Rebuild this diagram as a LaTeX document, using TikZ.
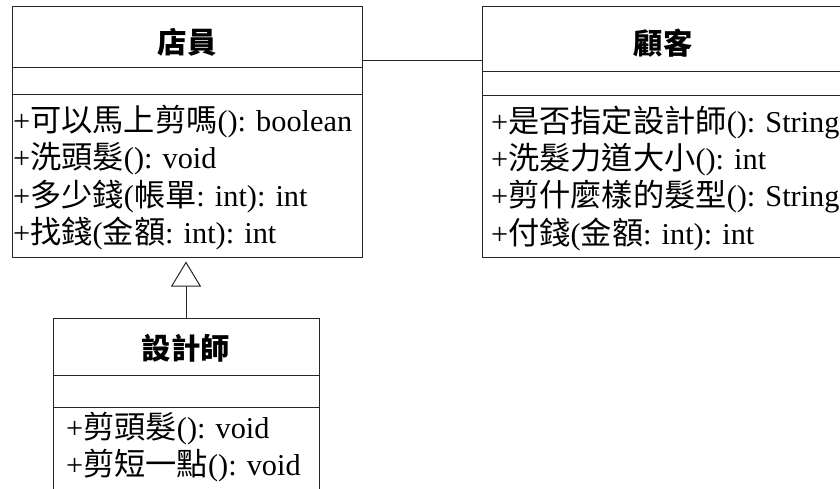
\documentclass[tikz,border=0pt]{standalone}
\usepackage{fontspec}
\setmainfont{Liberation Serif}
\newfontfamily\cjk[Scale=1.03]{Noto Sans CJK TC}
\usetikzlibrary{arrows.meta}
\tikzset{
  classbox/.style={draw=black!85, line width=1pt, rectangle, inner sep=0pt},
  divider/.style={draw=black!85, line width=1pt},
  meth/.style={anchor=base west, inner sep=0pt, font=\fontsize{30.3}{37}\selectfont},
  ttl/.style={anchor=center, inner sep=0pt, font=\fontsize{28.5}{34}\selectfont\cjk\bfseries},
  conn/.style={draw=black!85, line width=1pt},
}
\begin{document}
\begin{tikzpicture}[x=1pt,y=-1pt]
\useasboundingbox (0,0) rectangle (840,489);
\clip (0,0) rectangle (840,489);
% boxes
\node[classbox, minimum width=350pt, minimum height=250pt] (emp) at (187,132) {};
\node[classbox, minimum width=380pt, minimum height=250pt] (cust) at (672,132) {};
\node[classbox, minimum width=266pt, minimum height=200pt] (des) at (186,418) {};
% dividers
\draw[divider] (12,68) -- (362,68);
\draw[divider] (12,95) -- (362,95);
\draw[divider] (482,72) -- (862,72);
\draw[divider] (482,96) -- (862,96);
\draw[divider] (53,375) -- (319,375);
\draw[divider] (53,407) -- (319,407);
% titles
\node[ttl] (t1) at (187,42) {店員};
\node[ttl] (t2) at (663,43) {顧客};
\node[ttl] (t3) at (186,348) {設計師};
% methods
\node[meth] (m11) at (13,132) {+{\cjk 可以馬上剪嗎}(): boolean};
\node[meth] (m12) at (13,169) {+{\cjk 洗頭髮}(): void};
\node[meth] (m13) at (13,206) {+{\cjk 多少錢}({\cjk 帳單}: int): int};
\node[meth] (m14) at (13,243) {+{\cjk 找錢}({\cjk 金額}: int): int};
\node[meth] (m21) at (491,133) {+{\cjk 是否指定設計師}(): String};
\node[meth] (m22) at (491,170) {+{\cjk 洗髮力道大小}(): int};
\node[meth] (m23) at (491,207) {+{\cjk 剪什麼樣的髮型}(): String};
\node[meth] (m24) at (491,244) {+{\cjk 付錢}({\cjk 金額}: int): int};
\node[meth] (m31) at (66,438) {+{\cjk 剪頭髮}(): void};
\node[meth] (m32) at (66,475) {+{\cjk 剪短一點}(): void};
% connectors
\coordinate (ay) at (0,61);
\draw[conn] (emp.east |- ay) -- (cust.west |- ay);
\draw[conn, -{Triangle[open, length=25pt, width=30pt, line width=1pt]}, shorten >=4pt] (des.north) -- (des.north |- emp.south);
\end{tikzpicture}
\end{document}
